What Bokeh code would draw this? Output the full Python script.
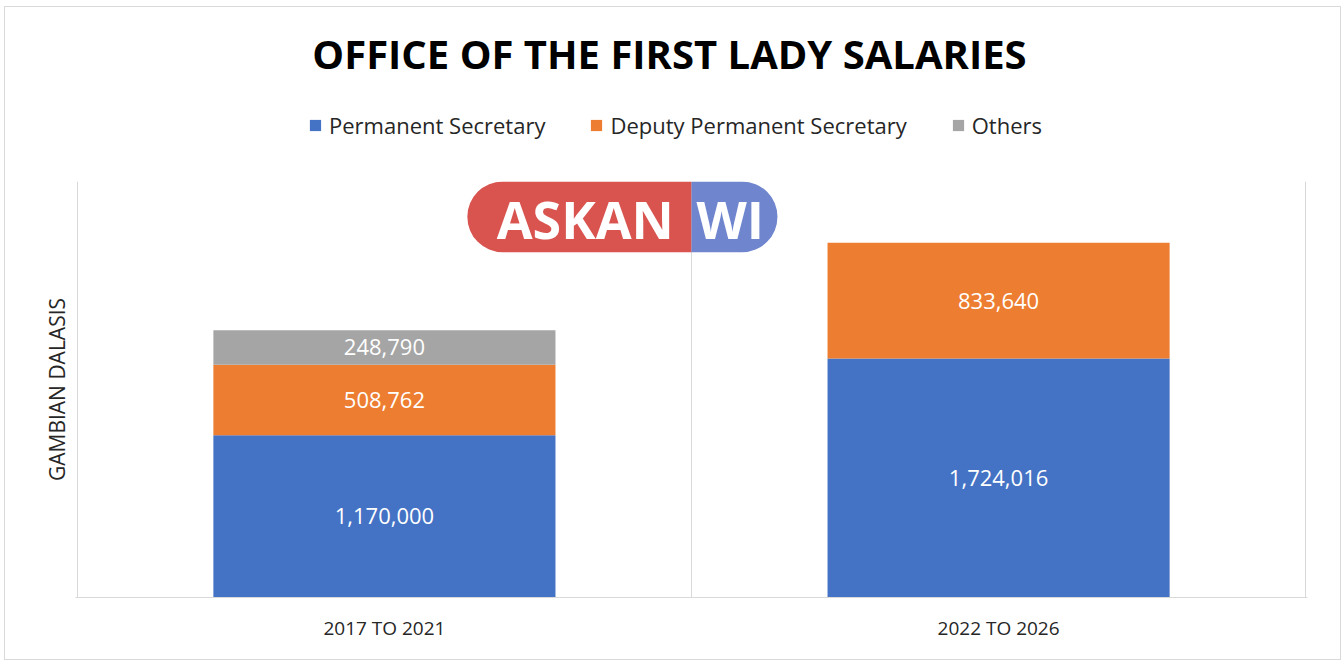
from bokeh.plotting import figure
from bokeh.models import (ColumnDataSource, Legend, LegendItem, FixedTicker, Range1d, Label)
from bokeh.layouts import column
from bokeh.core.properties import value
from bokeh.embed import file_html
from bokeh.resources import INLINE

# ---- data ----
title = "OFFICE OF THE FIRST LADY SALARIES"
periods = ["2017 TO 2021", "2022 TO 2026"]
series = ["Permanent Secretary", "Deputy Permanent Secretary", "Others"]
permanent_secretary = [1170000, 1724016]
deputy_permanent_secretary = [508762, 833640]
others = [248790, 0]
colors = ["#4472C4", "#ED7D31", "#A5A5A5"]

FONT = "Open Sans"
W = 1335
xs = [i + 0.5 for i in range(len(periods))]

src = ColumnDataSource(dict(
    x=xs,
    ps=permanent_secretary,
    dps=deputy_permanent_secretary,
    oth=others,
))

# ---------- header figure: title + legend ----------
top = figure(width=W, height=174, output_backend="svg", toolbar_location=None,
             x_range=Range1d(0, len(periods)), y_range=Range1d(0, 1),
             x_axis_location=None, y_axis_location=None,
             min_border_left=0, min_border_right=0, min_border_top=0, min_border_bottom=0)
top.outline_line_color = None
top.xgrid.visible = False
top.ygrid.visible = False
# legend swatches: one off-screen square per series carrying its colour
proxies = [top.quad(left=[0.1], right=[0.2], bottom=[-10], top=[-9],
                    fill_color=c, line_color=None) for c in colors]

top.add_layout(Label(x=594, y=128, x_units="screen", y_units="screen", text=title,
                     text_align="center", text_baseline="middle", text_color="black",
                     text_font=FONT, text_font_size="40px", text_font_style="bold"))

items = [LegendItem(label=s, renderers=[r]) for s, r in zip(series, proxies)]
legend = Legend(items=items, orientation="horizontal", location=(233, 41),
                label_text_font=FONT, label_text_font_size="22px", label_text_color="#262626",
                glyph_width=14, glyph_height=14, label_standoff=7, spacing=44, label_height=26,
                border_line_color=None, background_fill_alpha=0, padding=0, margin=0)
top.add_layout(legend, "center")

# ---------- main chart ----------
p = figure(width=W, height=478, output_backend="svg", toolbar_location=None,
           x_range=Range1d(-0.003, len(periods) + 0.003), y_range=Range1d(0, 3000000),
           min_border_left=70, min_border_right=33, min_border_top=0, min_border_bottom=62)
p.outline_line_color = None

renderers = p.vbar_stack(["ps", "dps", "oth"], x="x", width=0.557, source=src,
                         color=colors, line_color=None)

# data labels
lx, ly, lt = [], [], []
for i, x in enumerate(xs):
    base = 0
    for vals in (permanent_secretary, deputy_permanent_secretary, others):
        v = vals[i]
        if v > 0:
            lx.append(x)
            ly.append(base + v / 2)
            lt.append(f"{v:,}")
        base += v
p.text(x=lx, y=ly, text=lt, text_align="center", text_baseline="middle",
       text_color="white", text_font=value(FONT), text_font_size="22px")

# watermark logo (decoration)
p.quad(left=[0.635], right=[1.0], bottom=[2490000], top=[3000000],
       fill_color="#d9534f", line_color=None, border_radius=(36, 0, 0, 36))
p.quad(left=[1.0], right=[1.14], bottom=[2490000], top=[3000000],
       fill_color="#6f86cf", line_color=None, border_radius=(0, 36, 36, 0))
p.text(x=[0.827], y=[2730000], text=["ASKAN"], text_align="center", text_baseline="middle",
       text_color="white", text_font=value(FONT), text_font_style="bold", text_font_size="52px")
p.text(x=[1.063], y=[2730000], text=["WI"], text_align="center", text_baseline="middle",
       text_color="white", text_font=value(FONT), text_font_style="bold", text_font_size="52px")

# axes
p.xaxis.ticker = FixedTicker(ticks=xs)
p.xaxis.major_label_overrides = {x: lab for x, lab in zip(xs, periods)}
p.xaxis.major_label_text_font = FONT
p.xaxis.major_label_text_font_size = "19px"
p.xaxis.major_label_text_color = "#262626"
p.xaxis.major_tick_line_color = None
p.xaxis.minor_tick_line_color = None
p.xaxis.axis_line_color = "#d9d9d9"
p.xaxis.major_label_standoff = 11

p.yaxis.ticker = FixedTicker(ticks=[])
p.yaxis.major_label_text_font_size = "0px"
p.yaxis.major_tick_line_color = None
p.yaxis.minor_tick_line_color = None
p.yaxis.axis_line_color = None
p.yaxis.axis_label = "GAMBIAN DALASIS"
p.yaxis.axis_label_text_font = FONT
p.yaxis.axis_label_text_font_size = "21px"
p.yaxis.axis_label_text_font_style = "normal"
p.yaxis.axis_label_text_color = "#262626"
p.yaxis.axis_label_standoff = 5

p.ygrid.grid_line_color = None
p.xgrid.ticker = FixedTicker(ticks=list(range(len(periods) + 1)))
p.xgrid.grid_line_color = "#d9d9d9"

layout = column(top, p, spacing=0,
                styles={"border": "1px solid #d9d9d9", "margin-left": "4px", "margin-top": "6px"})

open("out.html", "w").write(file_html(layout, INLINE))
